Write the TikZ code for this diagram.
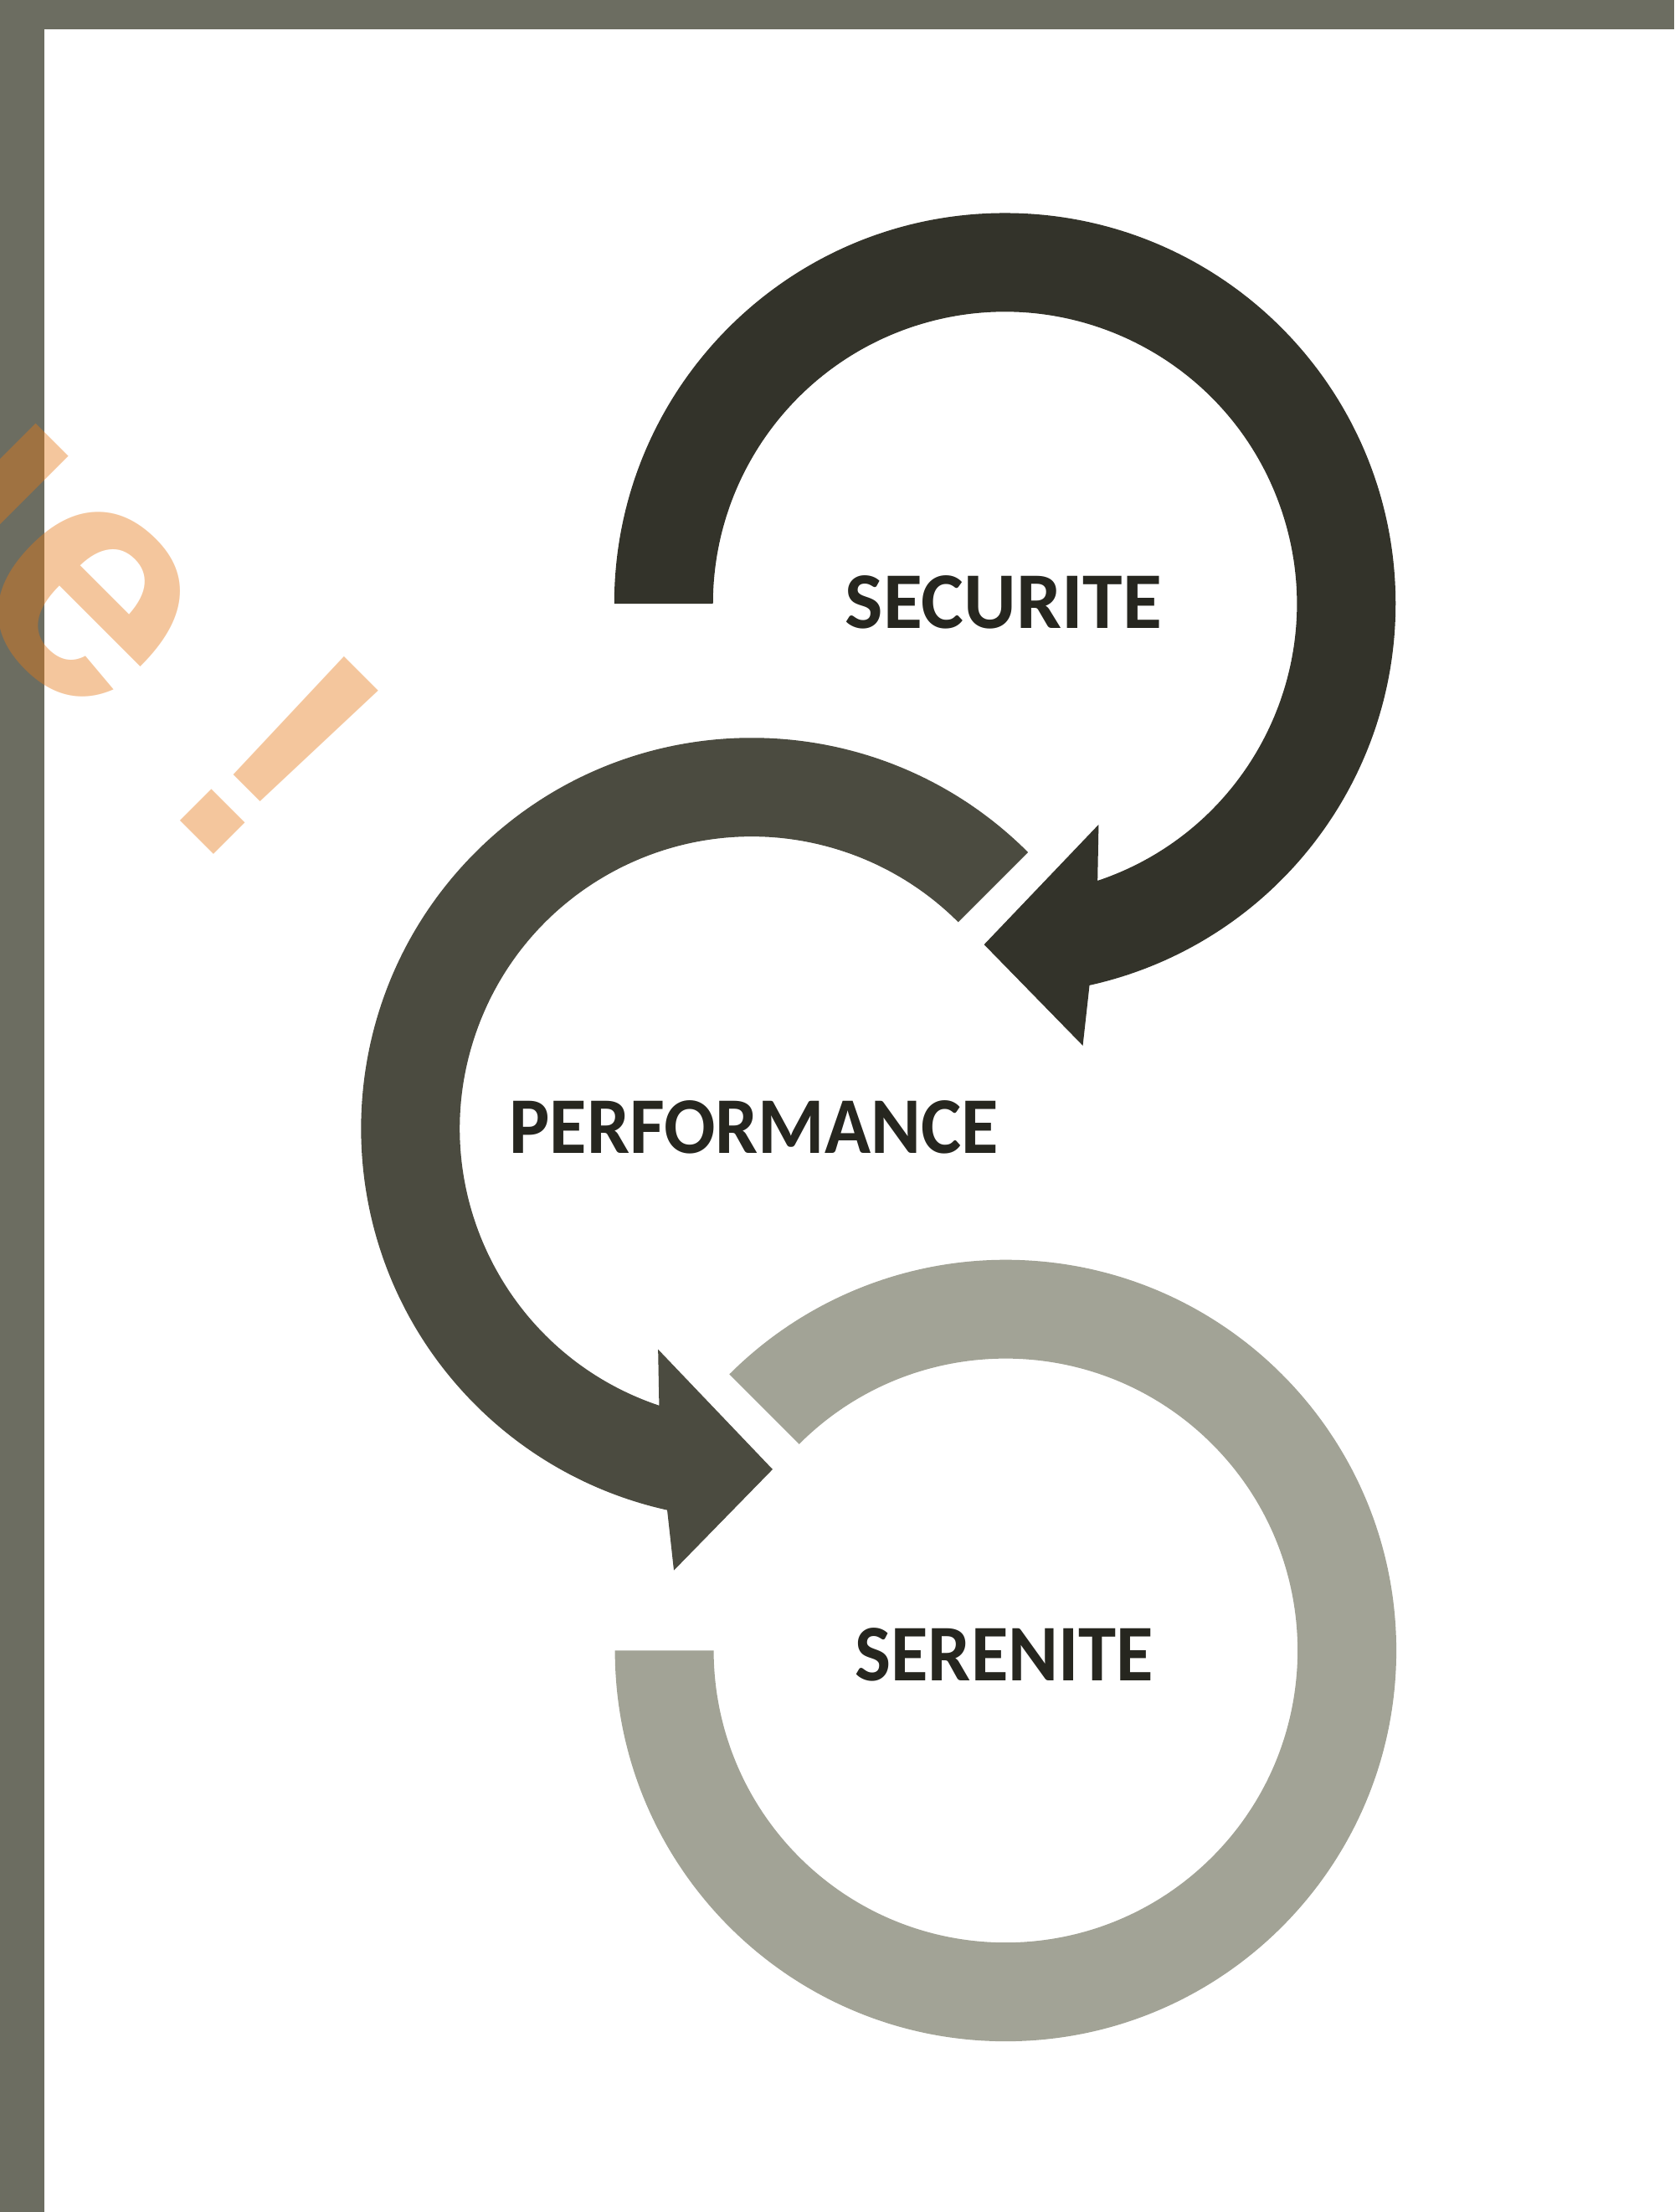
\documentclass[tikz,border=0pt]{standalone}
\usepackage{fontspec}
\setmainfont{Carlito}
\newfontfamily\wmfont{Liberation Sans}
\usetikzlibrary{calc}
\definecolor{framegray}{HTML}{6C6D61}
\definecolor{ringA}{HTML}{33332A}
\definecolor{ringB}{HTML}{4B4B40}
\definecolor{ringC}{HTML}{A2A396}
\definecolor{txt}{HTML}{26261F}
\definecolor{wmorange}{HTML}{E67917}
\tikzset{
  lbl/.style={anchor=base, inner sep=0pt, text=txt, font=\fontsize{16.2}{19}\selectfont\bfseries},
  wmark/.style={inner sep=0pt, text=wmorange, text opacity=0.42, font=\wmfont\fontsize{68}{68}\selectfont\bfseries}
}
\begin{document}
\begin{tikzpicture}[x=0.01cm,y=0.01cm]
\useasboundingbox (0,0) rectangle (1187,-1568);
\fill[white] (0,0) rectangle (1187,-1568);
% frame bars
\fill[framegray] (0,0) rectangle (1187,-21);
\fill[framegray] (0,0) rectangle (31.3,-1568);

\coordinate (cA) at (712.5,-428);
\coordinate (cB) at (533,-800);
\coordinate (cC) at (713,-1170);

% SERENITE ring (open, no arrow)
\begin{scope}[shift={(cC)}]
\fill[ringC] (180:277) arc[start angle=180,end angle=495,radius=277]
  -- (495:207) arc[start angle=495,end angle=180,radius=207] -- cycle;
\end{scope}

% PERFORMANCE ring with arrow
\begin{scope}[shift={(cB)}]
\fill[ringB] (45:277) arc[start angle=45,end angle=257.5,radius=277]
  -- (260:318) -- (273.5:242) -- (247:170) -- (251.5:207)
  arc[start angle=251.5,end angle=45,radius=207] -- cycle;
\end{scope}

% SECURITE ring with arrow
\begin{scope}[shift={(cA)}]
\fill[ringA] (180:277) arc[start angle=180,end angle=-77.5,radius=277]
  -- (-80:318) -- (-93.5:242) -- (-67:170) -- (-71.5:207)
  arc[start angle=-71.5,end angle=180,radius=207] -- cycle;
\end{scope}

\node[lbl] (securite) at (711.6,-445.1) {SECURITE};
\node[lbl, xscale=0.947, transform shape] (performance) at (534.5,-817.4) {PERFORMANCE};
\node[lbl, xscale=0.948, transform shape] (serenite) at (712,-1191.5) {SERENITE};

\node[wmark, anchor=base east, rotate=-45] (watermark) at (169,-622.7) {ue !};
\end{tikzpicture}
\end{document}
